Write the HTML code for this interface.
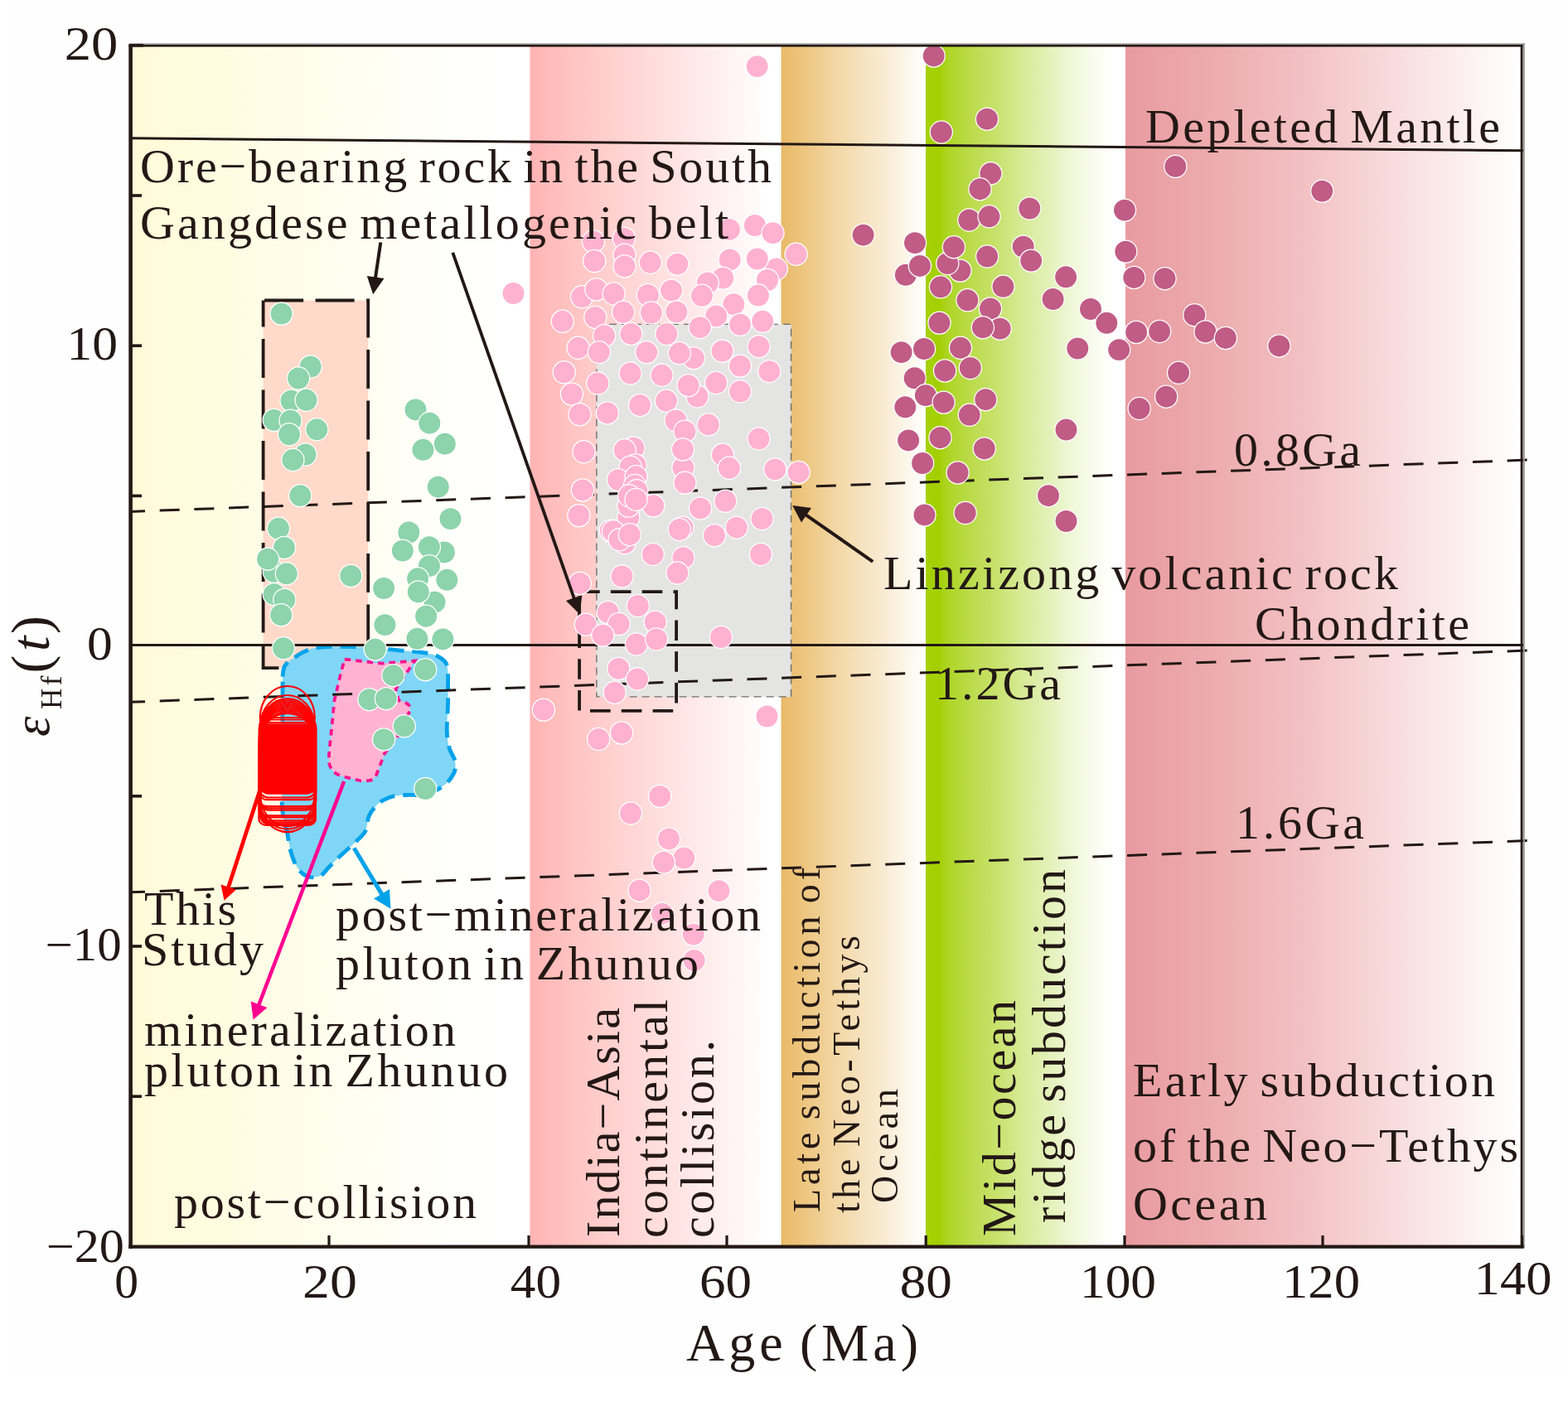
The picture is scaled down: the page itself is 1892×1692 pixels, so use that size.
<!DOCTYPE html>
<html lang="en"><head><meta charset="utf-8"><title>εHf(t) versus Age (Ma)</title>
<style>
html,body{margin:0;padding:0;background:#fff;}
body{width:1892px;height:1692px;overflow:hidden;}
svg{display:block;filter:blur(0.7px);}
text{font-family:"Liberation Serif", "DejaVu Serif", serif;fill:#231815;}
.g circle{fill:#8dd3ab;stroke:#fff;stroke-width:1.25;}
.p circle{fill:#ffb2d0;stroke:#fff;stroke-width:1.25;}
.m circle{fill:#c05c86;stroke:#fff;stroke-width:1.25;}
.r ellipse,.r rect{fill:none;stroke:#ff0000;stroke-width:2.2;}
</style></head><body>
<svg width="1892" height="1692" viewBox="0 0 1892 1692">
<rect x="13" y="0" width="1879" height="1655" fill="#fefefe"/>
<defs>
<linearGradient id="gy" x1="0" y1="0" x2="1" y2="0">
<stop offset="0" stop-color="#fffbd8"/>
<stop offset="0.25" stop-color="#fffce2"/>
<stop offset="0.55" stop-color="#fffef0"/>
<stop offset="0.8" stop-color="#fffffb"/>
<stop offset="0.93" stop-color="#ffffff"/>
<stop offset="1" stop-color="#ffffff"/>
</linearGradient>
<linearGradient id="gp" x1="0" y1="0" x2="1" y2="0">
<stop offset="0" stop-color="#ffb3b3"/>
<stop offset="0.08" stop-color="#ffbcba"/>
<stop offset="0.3" stop-color="#ffcfcd"/>
<stop offset="0.6" stop-color="#ffe5e4"/>
<stop offset="0.85" stop-color="#fff7f7"/>
<stop offset="0.95" stop-color="#ffffff"/>
<stop offset="1" stop-color="#ffffff"/>
</linearGradient>
<linearGradient id="go" x1="0" y1="0" x2="1" y2="0">
<stop offset="0" stop-color="#e8ba68"/>
<stop offset="0.15" stop-color="#edc57e"/>
<stop offset="0.4" stop-color="#f3d8a8"/>
<stop offset="0.7" stop-color="#f9ebd2"/>
<stop offset="0.93" stop-color="#fefaf3"/>
<stop offset="1" stop-color="#ffffff"/>
</linearGradient>
<linearGradient id="gg" x1="0" y1="0" x2="1" y2="0">
<stop offset="0" stop-color="#a6d108"/>
<stop offset="0.065" stop-color="#a3cf00"/>
<stop offset="0.11" stop-color="#add524"/>
<stop offset="0.236" stop-color="#bcdc4e"/>
<stop offset="0.36" stop-color="#c8e26e"/>
<stop offset="0.48" stop-color="#d6ea96"/>
<stop offset="0.6" stop-color="#e1f0b4"/>
<stop offset="0.73" stop-color="#f0f7d7"/>
<stop offset="0.85" stop-color="#fafcf0"/>
<stop offset="0.94" stop-color="#ffffff"/>
<stop offset="1" stop-color="#ffffff"/>
</linearGradient>
<linearGradient id="gr" x1="0" y1="0" x2="1" y2="0">
<stop offset="0" stop-color="#e89ba0"/>
<stop offset="0.2" stop-color="#ecaaad"/>
<stop offset="0.45" stop-color="#f3c1c3"/>
<stop offset="0.7" stop-color="#f9dfdf"/>
<stop offset="0.9" stop-color="#fdf5f5"/>
<stop offset="1" stop-color="#ffffff"/>
</linearGradient>
</defs>
<rect x="157.3" y="54.8" width="482.2" height="1449.8" fill="url(#gy)"/>
<rect x="639.5" y="54.8" width="303.0" height="1449.8" fill="url(#gp)"/>
<rect x="942.5" y="54.8" width="174.5" height="1449.8" fill="url(#go)"/>
<rect x="1117" y="54.8" width="241" height="1449.8" fill="url(#gg)"/>
<rect x="1358" y="54.8" width="479.5" height="1449.8" fill="url(#gr)"/>
<g id="shapes">
<rect x="942.5" y="391.4" width="12" height="449.5" fill="#e4e4e3"/>
<rect x="719.9" y="391.4" width="234.6" height="449.5" fill="#e4e4e3" stroke="#6e6e6e" stroke-width="1.4" stroke-dasharray="9 6"/>
<rect x="317.6" y="362.5" width="126.6" height="443.6" fill="#ffd9c9" stroke="#231815" stroke-width="3.8" stroke-dasharray="47 14.5" stroke-dashoffset="-1.5"/>
<path id="blob" d="M341.1 816.7 C341.5 810 342 806.5 343.5 804 C346 800 349 797.5 352.4 795.5 C357 792.5 361 789.5 365.7 787.2 C370 785 374 783 378.9 782.2 C387 780.8 395 780.4 403.5 780.3 L441.3 780.8 C454 781.5 466 783 479.1 784.6 C489 785.8 498 786 507.5 787.2 C514 788 521 788.8 526.4 791.2 C532 793.7 535.5 796 537.8 799.7 C540 803.5 540.6 808 540.6 813 L540.6 845 C540.6 858 539 870 539.3 882.9 C539.5 890 540.5 897 542.5 903.7 C544.3 910 549 914.5 549.4 920.8 C549.8 926 549.5 930 547.2 934 C544 940 540 945 534 949.1 C528 953.2 521 957 513.2 958.6 C505 960.3 497 959 488.6 959.5 C482 959.9 475.5 960.3 469.7 962.4 C464.5 964.3 460 966.5 456.4 970 C452 974.3 447.5 979 445.1 985.1 C442.8 991 443.5 996.5 441.3 1002.1 C439.2 1007.5 434 1011 430 1015.3 C424 1021.5 417.5 1026.5 411.1 1032.4 C405.5 1037.5 401 1042.5 395.9 1047.5 C393 1050.5 390.5 1055.5 386.5 1057 C382.5 1058.5 377.5 1059.5 373.2 1058.5 C369.5 1057.6 366.5 1056 363.8 1053.2 C359.5 1048.8 356.5 1043.5 354.3 1038 C352.3 1033 350.8 1028 349.6 1022.9 C348.3 1017.3 347.9 1011.5 346.7 1005.9 C345.3 999.5 343.2 993.3 342 987 C340.8 980.8 340.2 974.3 340.1 968 L340.7 892.4 Z" fill="#80d6f6" stroke="#00a2e9" stroke-width="4.8" stroke-dasharray="19 10" stroke-linecap="butt"/>
<path id="minz" d="M415.8 795.6 L460.2 800.7 L500.5 797.5 L477.5 831.5 L481 845.1 C486 847 491 848 493.3 850.8 C495 853 495.2 855.5 494.3 858.4 L479.1 890.5 L464 909.4 L454.6 934 C453 938 450.5 940.8 447 941.6 C443.5 942.4 439.5 943 435.6 942.5 L412.9 936.8 C408.5 935.5 404.5 933.5 401.6 930.2 C398.8 927 397 923 396.9 918.9 C396.6 910 397.8 901 398.8 892.4 L403.5 845.1 L411.1 813 Z" fill="#ffb3d2" stroke="#fa1490" stroke-width="3.8" stroke-dasharray="7.5 6"/>
</g>
<g id="lines" stroke="#231815" fill="none">
<line x1="157" y1="166.8" x2="1838" y2="181.8" stroke-width="3"/>
<line x1="157" y1="778.4" x2="1838" y2="778.4" stroke-width="3"/>
<line x1="157" y1="617.4" x2="1843" y2="555.1" stroke-width="3" stroke-dasharray="24 17.72" stroke-dashoffset="6"/>
<line x1="157" y1="847.3" x2="1843" y2="785.0" stroke-width="3" stroke-dasharray="24 17.72" stroke-dashoffset="6"/>
<line x1="157" y1="1076.8" x2="1843" y2="1014.6" stroke-width="3" stroke-dasharray="24 17.72" stroke-dashoffset="6"/>
<rect x="699.1" y="714.2" width="117" height="143.7" stroke-width="3.8" stroke-dasharray="24.6 13.2"/>
</g>
<g class="g">
<circle cx="339.6" cy="378.6" r="13.6"/><circle cx="374.7" cy="442.5" r="13.6"/><circle cx="360.0" cy="456.5" r="13.6"/><circle cx="351.5" cy="483.6" r="13.6"/>
<circle cx="369.6" cy="482.8" r="13.6"/><circle cx="330.7" cy="506.9" r="13.6"/><circle cx="350.5" cy="507.7" r="13.6"/><circle cx="349.0" cy="524.3" r="13.6"/>
<circle cx="382.3" cy="518.3" r="13.6"/><circle cx="368.5" cy="548.5" r="13.6"/><circle cx="353.4" cy="555.0" r="13.6"/><circle cx="362.3" cy="598.1" r="13.6"/>
<circle cx="336.0" cy="637.8" r="13.6"/><circle cx="330.7" cy="689.8" r="13.6"/><circle cx="343.0" cy="660.9" r="13.6"/><circle cx="323.1" cy="674.7" r="13.6"/>
<circle cx="345.8" cy="692.3" r="13.6"/><circle cx="330.7" cy="717.2" r="13.6"/><circle cx="343.3" cy="723.9" r="13.6"/><circle cx="339.2" cy="742.2" r="13.6"/>
<circle cx="423.3" cy="694.9" r="13.6"/><circle cx="342.0" cy="782.3" r="13.6"/><circle cx="501.5" cy="494.4" r="13.6"/><circle cx="518.3" cy="510.7" r="13.6"/>
<circle cx="536.8" cy="535.7" r="13.6"/><circle cx="510.4" cy="542.8" r="13.6"/><circle cx="528.7" cy="587.7" r="13.6"/><circle cx="543.5" cy="626.1" r="13.6"/>
<circle cx="493.3" cy="642.5" r="13.6"/><circle cx="485.8" cy="664.6" r="13.6"/><circle cx="535.9" cy="666.5" r="13.6"/><circle cx="517.9" cy="660.1" r="13.6"/>
<circle cx="517.9" cy="683.2" r="13.6"/><circle cx="504.1" cy="698.3" r="13.6"/><circle cx="539.3" cy="699.8" r="13.6"/><circle cx="524.5" cy="726.7" r="13.6"/>
<circle cx="504.7" cy="714.4" r="13.6"/><circle cx="514.1" cy="743.7" r="13.6"/><circle cx="463.1" cy="710.0" r="13.6"/><circle cx="464.4" cy="754.1" r="13.6"/>
<circle cx="503.4" cy="770.8" r="13.6"/><circle cx="534.4" cy="771.4" r="13.6"/><circle cx="452.7" cy="783.6" r="13.6"/><circle cx="474.4" cy="815.2" r="13.6"/>
<circle cx="513.2" cy="808.2" r="13.6"/><circle cx="445.5" cy="844.2" r="13.6"/><circle cx="465.9" cy="843.2" r="13.6"/><circle cx="487.7" cy="876.3" r="13.6"/>
<circle cx="463.1" cy="892.4" r="13.6"/><circle cx="513.2" cy="952.0" r="13.6"/>
</g>
<g class="p">
<circle cx="913.6" cy="80.1" r="13.6"/><circle cx="619.5" cy="354.0" r="13.6"/><circle cx="716.0" cy="291.5" r="13.6"/><circle cx="752.9" cy="287.6" r="13.6"/>
<circle cx="717.2" cy="315.0" r="13.6"/><circle cx="753.6" cy="307.6" r="13.6"/><circle cx="753.6" cy="321.4" r="13.6"/><circle cx="784.8" cy="316.8" r="13.6"/>
<circle cx="817.3" cy="318.6" r="13.6"/><circle cx="879.9" cy="276.9" r="13.6"/><circle cx="910.9" cy="272.0" r="13.6"/><circle cx="932.5" cy="281.2" r="13.6"/>
<circle cx="960.6" cy="306.8" r="13.6"/><circle cx="880.7" cy="313.4" r="13.6"/><circle cx="936.8" cy="324.5" r="13.6"/><circle cx="913.7" cy="312.5" r="13.6"/>
<circle cx="926.0" cy="338.0" r="13.6"/><circle cx="872.2" cy="335.6" r="13.6"/><circle cx="853.8" cy="341.4" r="13.6"/><circle cx="846.9" cy="356.8" r="13.6"/>
<circle cx="702.2" cy="358.3" r="13.6"/><circle cx="719.4" cy="349.4" r="13.6"/><circle cx="740.6" cy="354.5" r="13.6"/><circle cx="781.8" cy="356.0" r="13.6"/>
<circle cx="810.0" cy="350.6" r="13.6"/><circle cx="752.1" cy="376.8" r="13.6"/><circle cx="785.9" cy="377.5" r="13.6"/><circle cx="816.4" cy="376.4" r="13.6"/>
<circle cx="914.9" cy="356.5" r="13.6"/><circle cx="885.3" cy="367.2" r="13.6"/><circle cx="864.2" cy="381.4" r="13.6"/><circle cx="678.8" cy="387.8" r="13.6"/>
<circle cx="718.3" cy="382.9" r="13.6"/><circle cx="729.1" cy="405.2" r="13.6"/><circle cx="761.3" cy="402.9" r="13.6"/><circle cx="804.4" cy="403.0" r="13.6"/>
<circle cx="844.6" cy="395.2" r="13.6"/><circle cx="893.0" cy="391.8" r="13.6"/><circle cx="920.2" cy="387.8" r="13.6"/><circle cx="697.6" cy="419.8" r="13.6"/>
<circle cx="722.9" cy="425.2" r="13.6"/><circle cx="780.2" cy="425.2" r="13.6"/><circle cx="836.9" cy="432.1" r="13.6"/><circle cx="819.8" cy="426.3" r="13.6"/>
<circle cx="871.5" cy="423.6" r="13.6"/><circle cx="915.5" cy="418.2" r="13.6"/><circle cx="893.0" cy="441.6" r="13.6"/><circle cx="928.3" cy="448.2" r="13.6"/>
<circle cx="680.7" cy="449.3" r="13.6"/><circle cx="689.9" cy="475.6" r="13.6"/><circle cx="721.4" cy="462.5" r="13.6"/><circle cx="760.6" cy="450.5" r="13.6"/>
<circle cx="798.6" cy="452.8" r="13.6"/><circle cx="841.4" cy="478.5" r="13.6"/><circle cx="830.6" cy="465.1" r="13.6"/><circle cx="864.2" cy="462.0" r="13.6"/>
<circle cx="893.0" cy="472.5" r="13.6"/><circle cx="772.1" cy="488.9" r="13.6"/><circle cx="804.0" cy="483.8" r="13.6"/><circle cx="699.5" cy="500.2" r="13.6"/>
<circle cx="732.9" cy="498.4" r="13.6"/><circle cx="815.5" cy="507.5" r="13.6"/><circle cx="826.4" cy="520.7" r="13.6"/><circle cx="854.8" cy="512.4" r="13.6"/>
<circle cx="915.5" cy="529.5" r="13.6"/><circle cx="704.5" cy="545.3" r="13.6"/><circle cx="824.4" cy="564.5" r="13.6"/><circle cx="824.0" cy="542.4" r="13.6"/>
<circle cx="826.5" cy="582.6" r="13.6"/><circle cx="871.9" cy="548.8" r="13.6"/><circle cx="879.9" cy="564.8" r="13.6"/><circle cx="935.2" cy="566.4" r="13.6"/>
<circle cx="963.6" cy="569.9" r="13.6"/><circle cx="764.4" cy="540.7" r="13.6"/><circle cx="753.7" cy="543.3" r="13.6"/><circle cx="766.7" cy="561.4" r="13.6"/>
<circle cx="760.6" cy="563.7" r="13.6"/><circle cx="746.0" cy="579.1" r="13.6"/><circle cx="767.5" cy="575.3" r="13.6"/><circle cx="766.0" cy="586.0" r="13.6"/>
<circle cx="768.3" cy="592.2" r="13.6"/><circle cx="758.3" cy="624.4" r="13.6"/><circle cx="758.3" cy="610.6" r="13.6"/><circle cx="759.1" cy="598.3" r="13.6"/>
<circle cx="788.3" cy="610.3" r="13.6"/><circle cx="767.5" cy="602.9" r="13.6"/><circle cx="703.0" cy="591.4" r="13.6"/><circle cx="698.4" cy="622.1" r="13.6"/>
<circle cx="845.0" cy="613.4" r="13.6"/><circle cx="875.3" cy="604.8" r="13.6"/><circle cx="919.5" cy="626.0" r="13.6"/><circle cx="888.8" cy="636.7" r="13.6"/>
<circle cx="736.8" cy="640.6" r="13.6"/><circle cx="739.9" cy="641.3" r="13.6"/><circle cx="753.7" cy="655.2" r="13.6"/><circle cx="747.5" cy="651.3" r="13.6"/>
<circle cx="759.8" cy="645.2" r="13.6"/><circle cx="823.5" cy="636.7" r="13.6"/><circle cx="819.7" cy="639.0" r="13.6"/><circle cx="862.0" cy="646.2" r="13.6"/>
<circle cx="787.8" cy="669.0" r="13.6"/><circle cx="918.0" cy="669.0" r="13.6"/><circle cx="824.5" cy="673.2" r="13.6"/><circle cx="817.4" cy="691.5" r="13.6"/>
<circle cx="750.5" cy="695.5" r="13.6"/><circle cx="699.7" cy="703.9" r="13.6"/><circle cx="769.8" cy="731.0" r="13.6"/><circle cx="733.6" cy="738.9" r="13.6"/>
<circle cx="746.7" cy="753.0" r="13.6"/><circle cx="706.8" cy="753.8" r="13.6"/><circle cx="727.4" cy="766.6" r="13.6"/><circle cx="790.6" cy="750.7" r="13.6"/>
<circle cx="767.9" cy="777.5" r="13.6"/><circle cx="792.1" cy="771.5" r="13.6"/><circle cx="870.0" cy="769.0" r="13.6"/><circle cx="746.3" cy="806.9" r="13.6"/>
<circle cx="769.0" cy="819.5" r="13.6"/><circle cx="741.6" cy="835.8" r="13.6"/><circle cx="655.9" cy="856.6" r="13.6"/><circle cx="925.5" cy="864.5" r="13.6"/>
<circle cx="722.1" cy="892.0" r="13.6"/><circle cx="750.1" cy="884.4" r="13.6"/><circle cx="796.2" cy="960.9" r="13.6"/><circle cx="761.0" cy="981.5" r="13.6"/>
<circle cx="807.0" cy="1012.4" r="13.6"/><circle cx="825.4" cy="1035.5" r="13.6"/><circle cx="800.8" cy="1040.6" r="13.6"/><circle cx="771.5" cy="1074.7" r="13.6"/>
<circle cx="867.4" cy="1075.2" r="13.6"/><circle cx="798.9" cy="1102.7" r="13.6"/><circle cx="836.7" cy="1127.6" r="13.6"/><circle cx="837.7" cy="1159.0" r="13.6"/>
</g>
<g class="m">
<circle cx="1126.7" cy="67.4" r="13.6"/><circle cx="1191.0" cy="143.7" r="13.6"/><circle cx="1135.8" cy="159.5" r="13.6"/><circle cx="1195.4" cy="209.3" r="13.6"/>
<circle cx="1182.5" cy="228.2" r="13.6"/><circle cx="1242.3" cy="251.5" r="13.6"/><circle cx="1169.3" cy="265.5" r="13.6"/><circle cx="1193.5" cy="261.3" r="13.6"/>
<circle cx="1041.6" cy="283.6" r="13.6"/><circle cx="1104.0" cy="293.1" r="13.6"/><circle cx="1158.5" cy="326.6" r="13.6"/><circle cx="1143.3" cy="318.0" r="13.6"/>
<circle cx="1150.9" cy="298.2" r="13.6"/><circle cx="1191.2" cy="309.5" r="13.6"/><circle cx="1234.7" cy="297.6" r="13.6"/><circle cx="1244.2" cy="314.6" r="13.6"/>
<circle cx="1092.8" cy="331.8" r="13.6"/><circle cx="1109.9" cy="320.9" r="13.6"/><circle cx="1286.1" cy="334.3" r="13.6"/><circle cx="1135.0" cy="346.3" r="13.6"/>
<circle cx="1210.5" cy="345.8" r="13.6"/><circle cx="1167.4" cy="362.3" r="13.6"/><circle cx="1270.6" cy="361.0" r="13.6"/><circle cx="1195.0" cy="372.5" r="13.6"/>
<circle cx="1206.7" cy="396.7" r="13.6"/><circle cx="1185.9" cy="395.2" r="13.6"/><circle cx="1133.5" cy="389.6" r="13.6"/><circle cx="1316.0" cy="373.0" r="13.6"/>
<circle cx="1335.3" cy="389.8" r="13.6"/><circle cx="1087.6" cy="425.1" r="13.6"/><circle cx="1115.0" cy="421.0" r="13.6"/><circle cx="1159.0" cy="419.8" r="13.6"/>
<circle cx="1170.8" cy="444.0" r="13.6"/><circle cx="1140.1" cy="447.4" r="13.6"/><circle cx="1300.3" cy="420.5" r="13.6"/><circle cx="1103.6" cy="456.3" r="13.6"/>
<circle cx="1116.9" cy="477.1" r="13.6"/><circle cx="1138.6" cy="485.6" r="13.6"/><circle cx="1092.3" cy="491.3" r="13.6"/><circle cx="1189.3" cy="482.2" r="13.6"/>
<circle cx="1169.8" cy="500.8" r="13.6"/><circle cx="1096.1" cy="531.4" r="13.6"/><circle cx="1134.5" cy="528.2" r="13.6"/><circle cx="1187.8" cy="541.4" r="13.6"/>
<circle cx="1286.5" cy="518.6" r="13.6"/><circle cx="1113.1" cy="559.0" r="13.6"/><circle cx="1155.6" cy="570.4" r="13.6"/><circle cx="1265.0" cy="598.2" r="13.6"/>
<circle cx="1115.5" cy="621.4" r="13.6"/><circle cx="1164.7" cy="619.0" r="13.6"/><circle cx="1286.5" cy="629.0" r="13.6"/><circle cx="1418.3" cy="200.9" r="13.6"/>
<circle cx="1595.3" cy="230.6" r="13.6"/><circle cx="1357.0" cy="253.6" r="13.6"/><circle cx="1358.3" cy="303.6" r="13.6"/><circle cx="1368.3" cy="334.9" r="13.6"/>
<circle cx="1405.5" cy="336.2" r="13.6"/><circle cx="1371.1" cy="400.9" r="13.6"/><circle cx="1399.1" cy="400.0" r="13.6"/><circle cx="1441.3" cy="380.2" r="13.6"/>
<circle cx="1454.5" cy="400.4" r="13.6"/><circle cx="1478.9" cy="407.9" r="13.6"/><circle cx="1543.4" cy="417.4" r="13.6"/><circle cx="1350.2" cy="422.1" r="13.6"/>
<circle cx="1422.1" cy="449.8" r="13.6"/><circle cx="1407.2" cy="478.7" r="13.6"/><circle cx="1374.7" cy="493.0" r="13.6"/>
</g>
<g class="r">
<ellipse cx="346.8" cy="866.0" rx="33.0" ry="38.0"/>
<ellipse cx="346.8" cy="876.0" rx="32.5" ry="37.0"/>
<ellipse cx="346.8" cy="881.2" rx="33.5" ry="38.0"/>
<ellipse cx="346.8" cy="881.4" rx="33.0" ry="36.0"/>
<ellipse cx="346.8" cy="886.6" rx="34.0" ry="39.0"/>
<ellipse cx="346.8" cy="886.8" rx="33.2" ry="37.0"/>
<ellipse cx="346.8" cy="890.0" rx="33.8" ry="38.0"/>
<ellipse cx="346.8" cy="890.2" rx="33.0" ry="36.0"/>
<ellipse cx="346.8" cy="893.4" rx="33.5" ry="37.0"/>
<ellipse cx="346.8" cy="896.6" rx="33.0" ry="38.0"/>
<ellipse cx="346.8" cy="896.8" rx="33.6" ry="36.0"/>
<ellipse cx="346.8" cy="966.2" rx="33.0" ry="38.0"/>
<ellipse cx="346.8" cy="964.5" rx="33.5" ry="36.0"/>
<ellipse cx="346.8" cy="960.0" rx="32.5" ry="37.0"/>
<rect x="313.6" y="874" width="66.6" height="84" rx="10" ry="10" style="fill:#ff0000;stroke-width:1.5"/>
<rect x="313.3" y="866.0" width="67.4" height="96.5" rx="11.0" ry="9.8"/>
<rect x="313.3" y="868.5" width="67.9" height="96.7" rx="9.1" ry="8.4"/>
<rect x="312.7" y="872.0" width="68.6" height="101.2" rx="11.3" ry="7.3"/>
<rect x="313.1" y="876.0" width="66.9" height="99.4" rx="10.4" ry="8.7"/>
<rect x="313.9" y="880.0" width="65.2" height="97.6" rx="9.7" ry="9.7"/>
<rect x="312.5" y="884.0" width="68.0" height="100.4" rx="11.0" ry="7.4"/>
<rect x="312.7" y="888.0" width="67.4" height="98.4" rx="9.0" ry="9.6"/>
<rect x="313.5" y="892.0" width="66.0" height="98.4" rx="11.5" ry="9.6"/>
<rect x="314.1" y="896.0" width="66.2" height="96.6" rx="10.3" ry="9.0"/>
<rect x="314.3" y="900.0" width="65.9" height="94.6" rx="10.7" ry="9.9"/>
<rect x="312.4" y="905.0" width="68.4" height="91.0" rx="9.9" ry="7.5"/>
</g>
<g id="arrows">
<line x1="459.3" y1="292.5" x2="452.8" y2="336.5" stroke="#231815" stroke-width="4.0"/><path d="M450.1 355.2 L442.8 332.9 L453.1 334.4 L463.5 335.9 Z" fill="#231815"/>
<line x1="546.3" y1="304.8" x2="693.3" y2="723.6" stroke="#231815" stroke-width="3.8"/><path d="M699.6 741.4 L683.0 725.0 L692.6 721.6 L702.3 718.2 Z" fill="#231815"/>
<line x1="1053.2" y1="677.8" x2="971.3" y2="620.6" stroke="#231815" stroke-width="4.0"/><path d="M956.2 610.0 L979.0 613.1 L973.0 621.7 L967.0 630.4 Z" fill="#231815"/>
<line x1="318.7" y1="938.0" x2="275.2" y2="1072.1" stroke="#ff0000" stroke-width="4.7"/><path d="M270.5 1086.7 L266.5 1067.5 L275.7 1070.5 L285.0 1073.5 Z" fill="#ff0000"/>
<line x1="415.1" y1="943.0" x2="311.8" y2="1214.0" stroke="#ff0090" stroke-width="4.5"/><path d="M305.6 1230.4 L302.7 1208.4 L312.5 1212.2 L322.4 1215.9 Z" fill="#ff0090"/>
<line x1="427.2" y1="1023.5" x2="461.6" y2="1080.6" stroke="#00a2e9" stroke-width="5.0"/><path d="M471.4 1096.8 L451.1 1084.5 L460.6 1078.8 L470.0 1073.1 Z" fill="#00a2e9"/>
</g>
<g id="frame" stroke="#231815" fill="none">
<line x1="155.3" y1="53.1" x2="1840" y2="53.1" stroke="#9c9a99" stroke-width="1.8"/>
<line x1="1838.8" y1="52.4" x2="1838.8" y2="1506" stroke="#9c9a99" stroke-width="2"/>
<line x1="155.3" y1="55.2" x2="1837.4" y2="55.2" stroke-width="2.6"/>
<line x1="1836.1" y1="54" x2="1836.1" y2="1504.6" stroke-width="2.8"/>
<line x1="157.6" y1="53.6" x2="157.6" y2="1506.7" stroke-width="4.6"/>
<line x1="155.2" y1="1504.6" x2="1838.7" y2="1504.6" stroke-width="4.2"/>
<g stroke-width="3.6">
<line x1="157" y1="54.8" x2="173" y2="54.8"/>
<line x1="157" y1="236.0" x2="171" y2="236.0"/>
<line x1="157" y1="417.2" x2="171" y2="417.2"/>
<line x1="157" y1="598.4" x2="171" y2="598.4"/>
<line x1="157" y1="960.8" x2="171" y2="960.8"/>
<line x1="157" y1="1142.0" x2="171" y2="1142.0"/>
<line x1="157" y1="1323.2" x2="171" y2="1323.2"/>
</g>
<g stroke-width="3.2">
<line x1="397.0" y1="1491" x2="397.0" y2="1504"/>
<line x1="638.0" y1="1491" x2="638.0" y2="1504"/>
<line x1="877.0" y1="1491" x2="877.0" y2="1504"/>
<line x1="1117.2" y1="1491" x2="1117.2" y2="1504"/>
<line x1="1357.0" y1="1491" x2="1357.0" y2="1504"/>
<line x1="1596.0" y1="1491" x2="1596.0" y2="1504"/>
<line x1="1836.5" y1="1491" x2="1836.5" y2="1504"/>
</g>
</g>
<g id="labels">
<text x="169.00" y="219.5" font-size="58" word-spacing="-6" textLength="762.00" lengthAdjust="spacing">Ore−bearing rock in the South</text>
<text x="169.00" y="288.0" font-size="58" word-spacing="-6" textLength="710.00" lengthAdjust="spacing">Gangdese metallogenic belt</text>
<text x="1382.00" y="171.5" font-size="58" word-spacing="-6" textLength="428.00" lengthAdjust="spacing">Depleted Mantle</text>
<text x="1489.00" y="561.5" font-size="58" word-spacing="-6" textLength="153.00" lengthAdjust="spacing">0.8Ga</text>
<text x="1066.00" y="710.5" font-size="58" word-spacing="-6" textLength="621.00" lengthAdjust="spacing">Linzizong volcanic rock</text>
<text x="1514.00" y="771.6" font-size="58" word-spacing="-6" textLength="259.00" lengthAdjust="spacing">Chondrite</text>
<text x="1128.00" y="844.0" font-size="58" word-spacing="-6" textLength="152.00" lengthAdjust="spacing">1.2Ga</text>
<text x="1491.00" y="1012.0" font-size="58" word-spacing="-6" textLength="155.00" lengthAdjust="spacing">1.6Ga</text>
<text x="174.00" y="1116.0" font-size="58" word-spacing="-6" textLength="111.00" lengthAdjust="spacing">This</text>
<text x="171.00" y="1165.0" font-size="58" word-spacing="-6" textLength="147.00" lengthAdjust="spacing">Study</text>
<text x="405.00" y="1123.0" font-size="58" word-spacing="-6" textLength="513.00" lengthAdjust="spacing">post−mineralization</text>
<text x="405.00" y="1182.0" font-size="58" word-spacing="-6" textLength="438.00" lengthAdjust="spacing">pluton in Zhunuo</text>
<text x="174.00" y="1262.0" font-size="58" word-spacing="-6" textLength="376.00" lengthAdjust="spacing">mineralization</text>
<text x="174.00" y="1311.0" font-size="58" word-spacing="-6" textLength="439.00" lengthAdjust="spacing">pluton in Zhunuo</text>
<text x="210.00" y="1470.0" font-size="58" word-spacing="-6" textLength="365.00" lengthAdjust="spacing">post−collision</text>
<text x="1367.00" y="1322.5" font-size="58" word-spacing="-6" textLength="437.00" lengthAdjust="spacing">Early subduction</text>
<text x="1367.00" y="1402.0" font-size="58" word-spacing="-6" textLength="465.00" lengthAdjust="spacing">of the Neo−Tethys</text>
<text x="1367.00" y="1471.5" font-size="58" word-spacing="-6" textLength="162.00" lengthAdjust="spacing">Ocean</text>
<text x="828.00" y="1642.0" font-size="64" word-spacing="-6" textLength="280.00" lengthAdjust="spacing">Age (Ma)</text>
<text x="138.20" y="1565.5" font-size="56" word-spacing="-6" textLength="28.80" lengthAdjust="spacingAndGlyphs">0</text>
<text x="365.00" y="1565.5" font-size="56" word-spacing="-6" textLength="65.80" lengthAdjust="spacingAndGlyphs">20</text>
<text x="615.80" y="1565.5" font-size="56" word-spacing="-6" textLength="61.20" lengthAdjust="spacingAndGlyphs">40</text>
<text x="844.00" y="1565.5" font-size="56" word-spacing="-6" textLength="63.00" lengthAdjust="spacingAndGlyphs">60</text>
<text x="1085.80" y="1565.5" font-size="56" word-spacing="-6" textLength="63.00" lengthAdjust="spacingAndGlyphs">80</text>
<text x="1303.00" y="1566.0" font-size="56" word-spacing="-6" textLength="92.00" lengthAdjust="spacingAndGlyphs">100</text>
<text x="1547.00" y="1566.0" font-size="56" word-spacing="-6" textLength="94.00" lengthAdjust="spacingAndGlyphs">120</text>
<text x="1778.80" y="1561.6" font-size="56" word-spacing="-6" textLength="93.70" lengthAdjust="spacingAndGlyphs">140</text>
<text x="77.80" y="71.8" font-size="56" word-spacing="-6" textLength="64.60" lengthAdjust="spacingAndGlyphs">20</text>
<text x="80.40" y="433.6" font-size="56" word-spacing="-6" textLength="61.60" lengthAdjust="spacingAndGlyphs">10</text>
<text x="104.90" y="796.0" font-size="56" word-spacing="-6" textLength="30.70" lengthAdjust="spacingAndGlyphs">0</text>
<text x="54.60" y="1159.0" font-size="56" word-spacing="-6" textLength="92.00" lengthAdjust="spacingAndGlyphs">−10</text>
<text x="55.80" y="1523.0" font-size="56" word-spacing="-6" textLength="94.20" lengthAdjust="spacingAndGlyphs">−20</text>
<text transform="translate(747.2 1493.00) rotate(-90)" font-size="58" word-spacing="-6" textLength="277.00" lengthAdjust="spacing">India−Asia</text>
<text transform="translate(804.6 1494.00) rotate(-90)" font-size="58" word-spacing="-6" textLength="288.00" lengthAdjust="spacing">continental</text>
<text transform="translate(860.8 1494.00) rotate(-90)" font-size="58" word-spacing="-6" textLength="239.00" lengthAdjust="spacing">collision.</text>
<text transform="translate(988.5 1463.00) rotate(-90)" font-size="46" word-spacing="-6" textLength="416.00" lengthAdjust="spacing">Late subduction of</text>
<text transform="translate(1036.6 1464.00) rotate(-90)" font-size="46" word-spacing="-6" textLength="335.00" lengthAdjust="spacing">the Neo-Tethys</text>
<text transform="translate(1082.8 1452.00) rotate(-90)" font-size="46" word-spacing="-6" textLength="138.00" lengthAdjust="spacing">Ocean</text>
<text transform="translate(1225.2 1492.00) rotate(-90)" font-size="58" word-spacing="-6" textLength="285.00" lengthAdjust="spacing">Mid−ocean</text>
<text transform="translate(1285.0 1476.00) rotate(-90)" font-size="58" word-spacing="-6" textLength="427.00" lengthAdjust="spacing">ridge subduction</text>
<text transform="translate(59 888) rotate(-90)" font-size="64"><tspan x="-1" y="0" font-style="italic" font-size="62">ε</tspan><tspan x="32" y="14.5" font-size="35" letter-spacing="3.5">Hf</tspan><tspan x="75.5" y="0" font-size="66">(</tspan><tspan x="102" y="0" font-style="italic" font-size="66">t</tspan><tspan x="123" y="0" font-size="66">)</tspan></text>
</g>
</svg>
</body></html>
